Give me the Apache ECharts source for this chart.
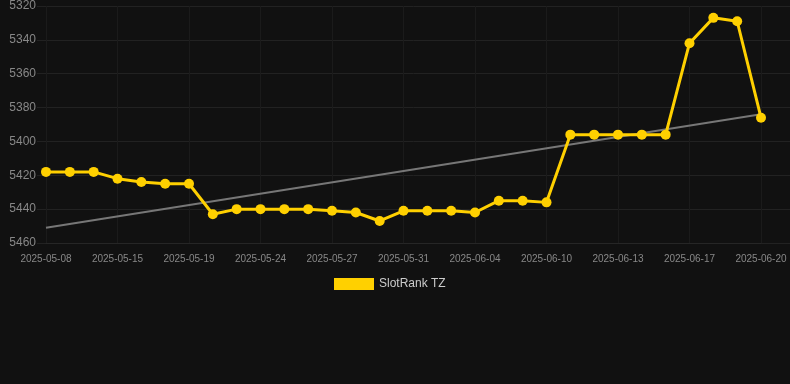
<!DOCTYPE html>
<html>
<head>
<meta charset="utf-8">
<script src="https://cdn.jsdelivr.net/npm/echarts@6/dist/echarts.min.js"></script>
<style>
html,body{margin:0;padding:0;background:#111111;}
#chart{width:790px;height:384px;}
</style>
</head>
<body>
<div id="chart"></div>
<script>
const categories = [
  '2025-05-08','2025-05-10','2025-05-12','2025-05-15','2025-05-16','2025-05-18',
  '2025-05-19','2025-05-21','2025-05-22','2025-05-24','2025-05-25','2025-05-26',
  '2025-05-27','2025-05-28','2025-05-30','2025-05-31','2025-06-01','2025-06-03',
  '2025-06-04','2025-06-06','2025-06-08','2025-06-10','2025-06-11','2025-06-12',
  '2025-06-13','2025-06-14','2025-06-16','2025-06-17','2025-06-18','2025-06-19',
  '2025-06-20'
];
const rankValues = [
  5418, 5418, 5418, 5422, 5424, 5425,
  5425, 5443, 5440, 5440, 5440, 5440,
  5441, 5442, 5447, 5441, 5441, 5441,
  5442, 5435, 5435, 5436, 5396, 5396,
  5396, 5396, 5396, 5342, 5327, 5329,
  5386
];
const trendStart = 5451;
const trendEnd = 5384;
const seriesName = 'SlotRank TZ';
const yTicks = { min: 5320, max: 5460, step: 20 };

const chart = echarts.init(document.getElementById('chart'), null, { renderer: 'canvas' });
const gridTop = 6, gridBottom = 141;
chart.setOption({
  backgroundColor: '#111111',
  animation: false,
  legend: {
    data: [seriesName],
    top: 273,
    left: 329,
    itemWidth: 40,
    itemHeight: 12,
    icon: 'rect',
    textStyle: { color: '#cccccc', fontSize: 12, fontFamily: 'Liberation Sans, Arial, sans-serif' }
  },
  grid: [
    { left: 46, right: 29, top: gridTop, bottom: gridBottom, containLabel: false },
    { left: 37, right: 0, top: gridTop, bottom: gridBottom, containLabel: false }
  ],
  xAxis: [
    {
      type: 'category',
      gridIndex: 0,
      data: categories,
      boundaryGap: false,
      axisLine: { show: true, lineStyle: { color: '#262626' } },
      axisTick: { show: false },
      axisLabel: {
        interval: 2,
        color: '#888888',
        fontSize: 10,
        margin: 11,
        fontFamily: 'Liberation Sans, Arial, sans-serif'
      },
      splitLine: { show: true, interval: 2, lineStyle: { color: '#1b1b1b', width: 1 } }
    },
    {
      type: 'category',
      gridIndex: 1,
      data: categories,
      show: false
    }
  ],
  yAxis: [
    {
      type: 'value',
      gridIndex: 0,
      inverse: true,
      min: yTicks.min,
      max: yTicks.max,
      interval: yTicks.step,
      axisLine: { show: false },
      axisTick: { show: false },
      axisLabel: {
        color: '#888888',
        fontSize: 12,
        margin: 10,
        formatter: v => String(v),
        fontFamily: 'Liberation Sans, Arial, sans-serif'
      },
      splitLine: { show: false }
    },
    {
      type: 'value',
      gridIndex: 1,
      inverse: true,
      min: yTicks.min,
      max: yTicks.max,
      interval: yTicks.step,
      axisLine: { show: false },
      axisTick: { show: false },
      axisLabel: { show: false },
      splitLine: { show: true, lineStyle: { color: '#222222', width: 1 } }
    }
  ],
  series: [
    {
      name: seriesName,
      type: 'line',
      xAxisIndex: 0,
      yAxisIndex: 0,
      data: rankValues,
      symbol: 'circle',
      symbolSize: 10,
      itemStyle: { color: '#FFD000' },
      lineStyle: { color: '#FFD000', width: 3 },
      z: 3
    },
    {
      name: 'trend',
      type: 'line',
      xAxisIndex: 0,
      yAxisIndex: 0,
      data: [[0, trendStart], [categories.length - 1, trendEnd]],
      symbol: 'none',
      lineStyle: { color: '#777777', width: 2 },
      z: 2,
      silent: true
    }
  ]
});
</script>
</body>
</html>
